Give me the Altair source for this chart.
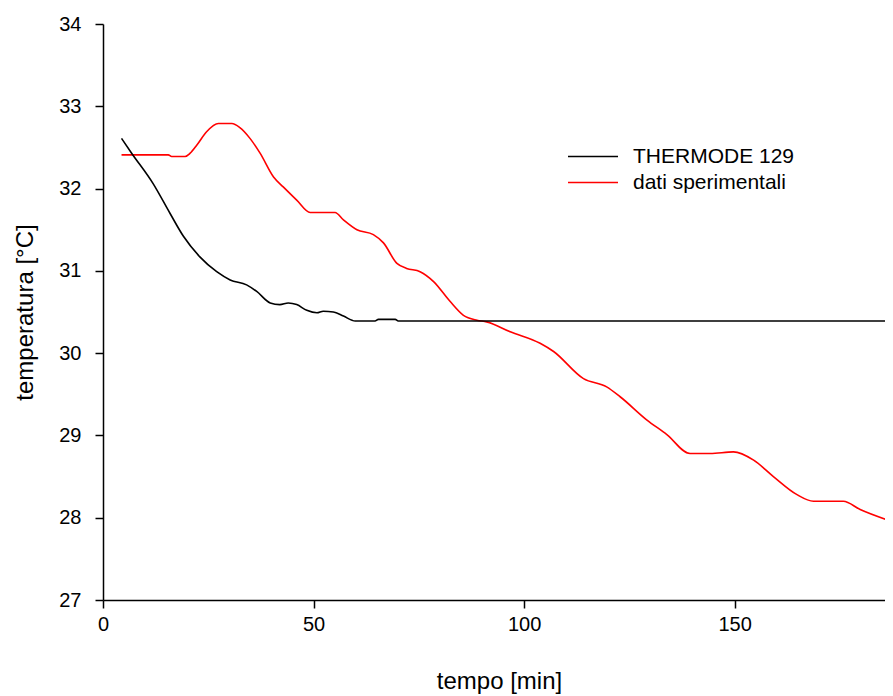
import altair as alt
import pandas as pd

# THERMODE 129 (model)
t_model = [4.4, 6.8, 11.9, 15.9, 19.1, 23.0, 27.0, 30.2, 34.1, 36.5, 39.7, 42.0, 44.0, 46.0,
           48.4, 50.8, 52.3, 54.7, 57.1, 59.9, 64.6, 65.4, 69.4, 70.1, 100.0, 150.0, 187.6]
y_model = [32.61, 32.43, 32.06, 31.70, 31.42, 31.17, 30.99, 30.89, 30.83, 30.75, 30.61, 30.59, 30.61, 30.59,
           30.52, 30.49, 30.51, 30.50, 30.45, 30.39, 30.39, 30.41, 30.41, 30.39, 30.39, 30.39, 30.39]

# dati sperimentali (measurements)
t_exp = [4.4, 15.5, 16.3, 19.5, 20.7, 22.3, 24.6, 27.4, 30.6, 32.5, 34.9, 37.3, 40.5, 42.8, 46.0,
         49.2, 55.1, 57.1, 60.3, 64.2, 66.6, 69.8, 72.1, 75.3, 78.5, 82.4, 85.6, 88.8, 91.1, 96.7,
         103.8, 107.0, 114.1, 119.6, 122.8, 129.1, 133.9, 139.4, 144.2, 149.7, 154.5, 159.2, 164.8,
         168.7, 175.8, 179.8, 187.6]
y_exp = [32.41, 32.41, 32.39, 32.39, 32.43, 32.53, 32.69, 32.79, 32.79, 32.74, 32.61, 32.43, 32.14, 32.02, 31.86,
         31.71, 31.71, 31.62, 31.50, 31.44, 31.34, 31.09, 31.03, 30.99, 30.87, 30.63, 30.46, 30.40, 30.38, 30.26,
         30.12, 30.02, 29.69, 29.59, 29.47, 29.19, 29.01, 28.78, 28.78, 28.80, 28.70, 28.50, 28.28,
         28.20, 28.20, 28.10, 27.95]

series_names = ["THERMODE 129", "dati sperimentali"]
series_colors = ["#000000", "#ff0000"]
x_ticks = [0, 50, 100, 150]
y_ticks = [27, 28, 29, 30, 31, 32, 33, 34]

df = pd.concat([
    pd.DataFrame({"t": t_model, "T": y_model, "serie": series_names[0]}),
    pd.DataFrame({"t": t_exp, "T": y_exp, "serie": series_names[1]}),
])

FONT = "Liberation Sans"

x_enc = alt.X("t:Q", scale=alt.Scale(domain=[0, 185.7], nice=False, zero=False),
              axis=alt.Axis(title="tempo [min]", values=x_ticks, format="d",
                            titleX=396, titleY=88, titleBaseline="alphabetic",
                            labelPadding=6, labelFlush=False))
y_enc = alt.Y("T:Q", scale=alt.Scale(domain=[27, 34], nice=False, zero=False),
              axis=alt.Axis(title="temperatura [°C]", values=y_ticks, format="d",
                            titleX=-71, titleY=288, titleAngle=-90, titleBaseline="alphabetic",
                            titleAlign="center", labelPadding=14, labelFlush=False))
color_enc = alt.Color("serie:N",
                      scale=alt.Scale(domain=series_names, range=series_colors),
                      legend=alt.Legend(title=None, orient="none", legendX=476.5, legendY=119,
                                        symbolType="M-2,0L2,0", symbolSize=625, symbolStrokeWidth=1.6,
                                        symbolFillColor="transparent",
                                        labelOffset=26.5, rowPadding=2, padding=0, labelLimit=0,
                                        labelFontSize=21, labelFont=FONT, labelColor="#000000"))

base = alt.Chart(df).encode(x=x_enc, y=y_enc, color=color_enc)

red = base.transform_filter(alt.datum.serie == series_names[1]).mark_line(
    strokeWidth=1.6, interpolate="monotone", clip=True)
black = base.transform_filter(alt.datum.serie == series_names[0]).mark_line(
    strokeWidth=1.6, interpolate="monotone", clip=True)

chart = alt.layer(red, black).properties(
    width=782, height=576,
    autosize=alt.AutoSizeParams(type="none"),
    padding={"left": 95, "top": 16, "right": 0, "bottom": 95},
).configure_view(stroke=None).configure_axis(
    grid=False, domainColor="#000000", domainWidth=1.5, tickColor="#000000", tickWidth=1.5,
    tickSize=8, labelFont=FONT, labelFontSize=20, labelColor="#000000",
    titleFont=FONT, titleFontSize=24, titleColor="#000000", titleFontWeight="normal",
)

chart.save("out.html", embed_options={"renderer": "svg", "actions": False})
